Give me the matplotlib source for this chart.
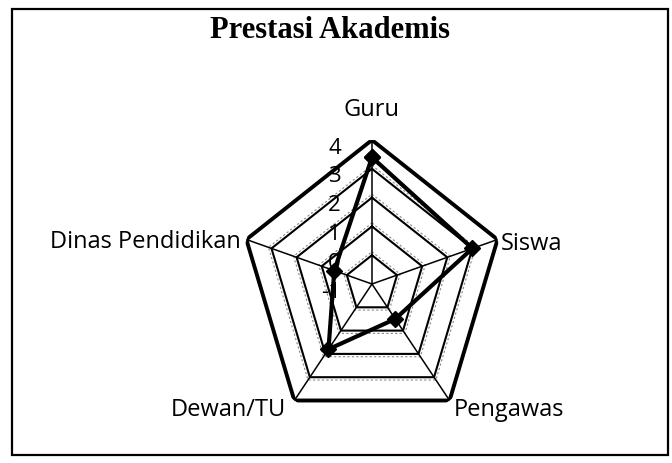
import numpy as np
import matplotlib.pyplot as plt
from matplotlib.patches import Rectangle

# radar data
categories = ["Guru", "Siswa", "Pengawas", "Dewan/TU", "Dinas Pendidikan"]
scores = [3.4, 3.0, 0.5, 1.8, 0.5]
ring_values = [0, 1, 2, 3, 4]
tick_values = [4, 3, 2, 1, 0, -1]
r_min, r_max = -1, 4

n = len(categories)
angles = np.linspace(0, 2 * np.pi, n, endpoint=False)
closed = np.append(angles, angles[0])

fig = plt.figure(figsize=(6.72, 4.63), dpi=100)
fig.patches.append(Rectangle((12 / 672, 8 / 463), 656 / 672, 446 / 463,
                             transform=fig.transFigure, fill=False,
                             edgecolor="black", linewidth=1.6))

ax = fig.add_axes([0.357, 0.0756, 0.393, 0.622], projection="polar")
ax.set_aspect("auto")
ax.set_theta_offset(np.pi / 2)
ax.set_theta_direction(-1)
ax.set_ylim(r_min, r_max)
ax.grid(False)
ax.spines["polar"].set_visible(False)
ax.set_xticks([])
ax.set_yticks([])
ax.patch.set_alpha(0)

# pentagon gridlines and spokes
for v in ring_values:
    lw = 2.8 if v == r_max else 1.5
    ax.plot(closed, [v] * (n + 1), color="black", lw=lw, zorder=2)
    if v != r_max:
        ax.plot(closed, [v + 0.12] * (n + 1), color="#888888", lw=0.8,
                ls=(0, (2, 2)), zorder=1)
for a in angles:
    ax.plot([a, a], [r_min, r_max], color="black", lw=1.1, zorder=2)

# series
ax.plot(closed, scores + scores[:1], color="black", lw=3.0,
        marker="D", markersize=8.5, zorder=4)

# axis value labels
for v in tick_values:
    ax.annotate(str(v), xy=(0, v), xytext=(-31, -8), textcoords="offset pixels",
                ha="right", va="center", fontsize=16, family="Open Sans")

# category labels
label_pos = {
    "Guru": ((0, 30), "center", "center"),
    "Siswa": ((3, -4), "left", "center"),
    "Pengawas": ((4, -10), "left", "center"),
    "Dewan/TU": ((-8, -10), "right", "center"),
    "Dinas Pendidikan": ((-6, -2), "right", "center"),
}
for a, name in zip(angles, categories):
    off, ha, va = label_pos[name]
    ax.annotate(name, xy=(a, r_max), xytext=off, textcoords="offset pixels",
                ha=ha, va=va, fontsize=17, family="Open Sans")

fig.text(0.491, 0.935, "Prestasi Akademis", ha="center", va="center",
         fontsize=22, fontweight="bold", family="Liberation Serif")

fig.savefig("out.png", dpi=100)
